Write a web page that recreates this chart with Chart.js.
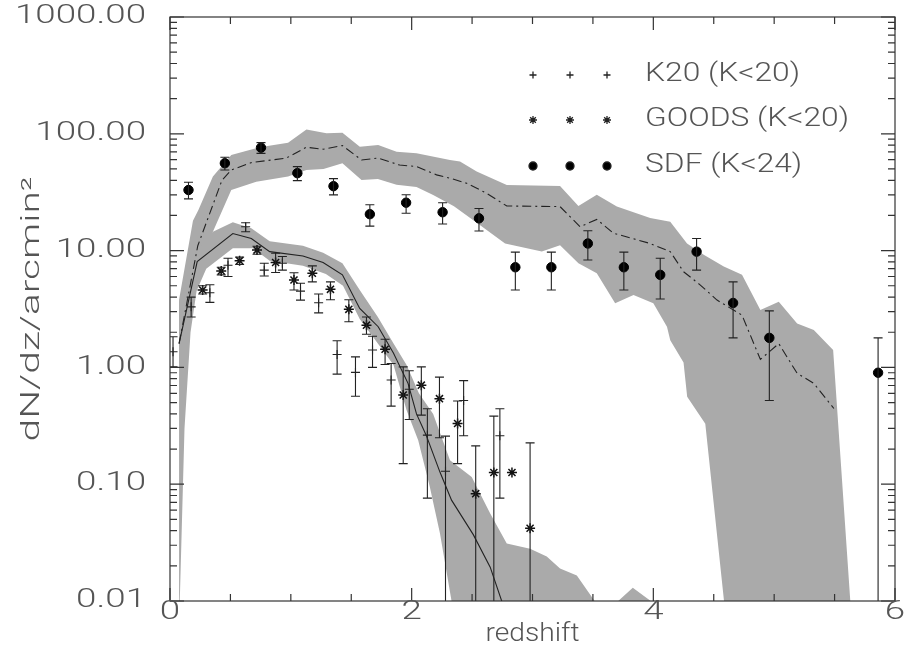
<!DOCTYPE html>
<html>
<head>
<meta charset="utf-8">
<script src="https://cdn.jsdelivr.net/npm/chart.js@4.4.1/dist/chart.umd.min.js"></script>
<style>html,body{margin:0;padding:0;background:#fff}</style>
</head>
<body>
<canvas id="myChart" width="906" height="651"></canvas>
<script>
// K20 (K<20)
const k20Z  = [0.025, 0.175, 0.33, 0.48, 0.626, 0.78, 0.93, 1.08, 1.23, 1.383, 1.535, 1.676, 1.83, 1.98, 2.13, 2.28, 2.43, 2.73]
const k20N  = [1.36, 3.3, 4.36, 7.5, 16.0, 6.8, 7.8, 4.5, 3.58, 1.29, 0.906, 1.41, 0.78, 0.65, 0.263, 0.129, 0.52, 0.26]
const k20Hi = [1.83, 4.0, 5.1, 8.6, 17.3, 7.8, 8.9, 5.25, 4.25, 1.69, 1.23, 1.85, 1.08, 0.935, 0.442, 0.258, 0.77, 0.442]
const k20Lo = [1.01, 2.7, 3.6, 6.0, 14.5, 6.06, 6.8, 3.77, 2.93, 0.876, 0.567, 1.0, 0.466, 0.358, 0.076, 0.001, 0.26, 0.076]

// GOODS (K<20)
const goodsZ  = [0.27, 0.424, 0.576, 0.72, 0.874, 1.026, 1.178, 1.328, 1.48, 1.626, 1.78, 1.93, 2.08, 2.23, 2.38, 2.53, 2.68, 2.83, 2.98]
const goodsN  = [4.6, 6.7, 8.2, 10.1, 7.9, 5.6, 6.4, 4.66, 3.14, 2.3, 1.43, 0.58, 0.705, 0.54, 0.331, 0.083, 0.126, 0.126, 0.042]
const goodsHi = [5.0, 7.2, 8.8, 10.9, 9.5, 6.47, 7.4, 5.4, 3.8, 2.7, 1.74, 1.01, 1.01, 0.826, 0.515, 0.213, 0.383, null, 0.226]
const goodsLo = [4.25, 6.2, 7.6, 9.3, 6.5, 4.6, 5.4, 3.8, 2.46, 1.92, 1.06, 0.15, 0.39, 0.25, 0.15, 0.001, 0.001, null, 0.001]

// SDF (K<24)
const sdfZ  = [0.153, 0.454, 0.753, 1.054, 1.353, 1.654, 1.954, 2.256, 2.557, 2.858, 3.156, 3.458, 3.756, 4.057, 4.358, 4.66, 4.96, 5.86]
const sdfN  = [33, 56, 76, 46, 35.6, 20.5, 25.7, 21.3, 18.9, 7.2, 7.2, 11.5, 7.2, 6.2, 9.8, 3.56, 1.79, 0.9]
const sdfHi = [38.5, 63, 84, 52.4, 41.3, 24.7, 30.1, 25.7, 22.9, 9.7, 9.7, 14.8, 9.7, 8.6, 12.7, 5.4, 3.05, 1.79]
const sdfLo = [27.7, 49, 68, 39.7, 30, 16.2, 20.9, 16.9, 14.7, 4.6, 4.6, 8.3, 4.6, 3.85, 6.8, 1.79, 0.52, 0.001]

// model for the bright sample (solid line + band)
const lowLineZ = [0.075, 0.225, 0.52, 0.673, 0.825, 1.1, 1.267, 1.427, 1.57, 1.723, 1.85, 1.97, 2.04, 2.12, 2.234, 2.33, 2.51, 2.65, 2.745, 2.77]
const lowLineN = [1.6, 8.05, 14, 12.7, 9.8, 9.0, 7.9, 6.2, 3.2, 2.23, 1.32, 0.73, 0.4, 0.263, 0.127, 0.073, 0.037, 0.0195, 0.01, 0.008]
const lowTopZ = [0.075, 0.2, 0.355, 0.52, 0.673, 0.825, 1.1, 1.267, 1.427, 1.57, 1.72, 1.85, 1.958, 2.06, 2.178, 2.317, 2.497, 2.65, 2.787, 2.98, 3.118, 3.228, 3.367, 3.52, 3.6, 3.7, 3.83, 3.99, 4.05]
const lowTopN = [3.6, 9.5, 14.5, 17.5, 15.5, 12, 11, 9.6, 7.8, 4.6, 2.7, 1.6, 1.05, 0.6, 0.4, 0.16, 0.115, 0.056, 0.031, 0.028, 0.024, 0.019, 0.0165, 0.0098, 0.008, 0.0098, 0.013, 0.0098, 0.006]
const lowBotZ = [0.075, 0.12, 0.17, 0.22, 0.3, 0.52, 0.686, 0.825, 1.1, 1.29, 1.432, 1.57, 1.72, 1.85, 1.958, 2.054, 2.15, 2.234, 2.33, 2.36]
const lowBotN = [0.006, 0.3, 2.0, 4.5, 7.0, 10.5, 10.5, 8.2, 7.4, 6.3, 5.0, 2.6, 1.6, 1.05, 0.43, 0.238, 0.095, 0.038, 0.01, 0.006]

// model for the deep sample (dash-dot line + band)
const upLineZ = [0.075, 0.23, 0.43, 0.507, 0.673, 0.963, 1.129, 1.267, 1.427, 1.585, 1.723, 1.9, 2.04, 2.206, 2.317, 2.455, 2.62, 2.787, 3.228, 3.394, 3.532, 3.67, 3.974, 4.14, 4.25, 4.389, 4.527, 4.734, 4.886, 5.038, 5.19, 5.328, 5.494]
const upLineN = [1.6, 11, 40, 49, 56.7, 62, 76.7, 73.8, 79.3, 59.7, 62, 54, 52.5, 44.5, 41.7, 37.7, 31, 24.1, 23.8, 16, 18.5, 14.1, 11.5, 9.8, 6.6, 5.07, 3.77, 2.8, 1.17, 1.6, 0.89, 0.73, 0.445]
const upTopZ = [0.075, 0.19, 0.235, 0.355, 0.507, 0.742, 0.977, 1.129, 1.295, 1.427, 1.571, 1.723, 1.875, 2.04, 2.317, 2.4, 2.538, 2.787, 3.228, 3.38, 3.532, 3.698, 3.974, 4.14, 4.279, 4.417, 4.583, 4.734, 4.886, 5.038, 5.19, 5.328, 5.488, 5.63, 5.66]
const upTopN = [3.8, 18, 22.3, 43, 66, 76.6, 84, 109, 101, 102, 77.6, 80.3, 70.3, 68, 59.6, 57.8, 47.5, 36.5, 35.8, 24.1, 30, 23.8, 19, 17.7, 11.5, 9.2, 7.3, 6.2, 3.1, 3.65, 2.38, 2.09, 1.41, 0.01, 0.004]
const upBotZ = [0.075, 0.2, 0.355, 0.507, 0.714, 0.977, 1.129, 1.27, 1.427, 1.585, 1.72, 1.875, 2.04, 2.178, 2.35, 2.55, 2.773, 3.077, 3.228, 3.38, 3.532, 3.684, 3.836, 4.0, 4.113, 4.14, 4.25, 4.28, 4.43, 4.585, 4.6]
const upBotN = [1.0, 6, 14.5, 33, 38.9, 43, 49, 50, 56, 40.3, 41, 36.6, 35, 29.9, 24, 17, 11.5, 9.8, 11.1, 7.8, 6.4, 3.54, 4.17, 3.54, 2.23, 1.71, 1.1, 0.56, 0.33, 0.01, 0.004]

const xMajor = [0, 2, 4, 6]
const xMinor = [0.5, 1, 1.5, 2.5, 3, 3.5, 4.5, 5, 5.5]
const yDecades = [0.01, 0.1, 1, 10, 100, 1000]
const yLabels = ['0.01', '0.10', '1.00', '10.00', '100.00', '1000.00']

const ink = '#222'
const textInk = '#555'
const bandGrey = '#aaaaaa'
const font = '300 25px Roboto'

function pts(zs, ns) {
    return zs.map((z, i) => ({x: z, y: ns[i]}))
}
function shape(topZ, topN, botZ, botN) {
    return pts(topZ, topN).concat(pts(botZ, botN).reverse())
}

function errBars(ctx, chart, zs, lo, hi, w) {
    const sx = chart.scales.x, sy = chart.scales.y
    for (let i = 0; i < zs.length; i++) {
        if (hi[i] == null) continue
        const px = sx.getPixelForValue(zs[i])
        const y1 = sy.getPixelForValue(hi[i])
        const y0 = sy.getPixelForValue(lo[i])
        ctx.beginPath()
        ctx.moveTo(px, y0); ctx.lineTo(px, y1)
        ctx.moveTo(px - w, y1); ctx.lineTo(px + w, y1)
        if (lo[i] >= 0.01) { ctx.moveTo(px - w, y0); ctx.lineTo(px + w, y0) }
        ctx.stroke()
    }
}

function stretchText(ctx, str, x, y, align, sx, rot) {
    ctx.save()
    ctx.translate(x, y)
    if (rot) ctx.rotate(rot)
    ctx.scale(sx, 1)
    ctx.textAlign = align
    ctx.fillText(str, 0, 0)
    ctx.restore()
}

const errorBarPlugin = {
    id: 'errorBars',
    afterDatasetsDraw(chart) {
        const ctx = chart.ctx, a = chart.chartArea
        ctx.save()
        ctx.beginPath()
        ctx.rect(a.left, a.top, a.right - a.left, a.bottom - a.top)
        ctx.clip()
        ctx.strokeStyle = ink
        ctx.lineWidth = 1.1
        errBars(ctx, chart, k20Z, k20Lo, k20Hi, 4.5)
        errBars(ctx, chart, goodsZ, goodsLo, goodsHi, 4.5)
        errBars(ctx, chart, sdfZ, sdfLo, sdfHi, 4.5)
        ctx.restore()
    }
}

const framePlugin = {
    id: 'frame',
    afterDraw(chart) {
        const ctx = chart.ctx, a = chart.chartArea
        const sx = chart.scales.x, sy = chart.scales.y
        ctx.save()
        ctx.strokeStyle = '#333'
        ctx.lineWidth = 1.2
        ctx.strokeRect(a.left, a.top, a.right - a.left, a.bottom - a.top)
        ctx.beginPath()
        // x ticks, bottom and top
        for (const v of xMajor.concat(xMinor)) {
            const len = xMajor.includes(v) ? 13 : 7
            const px = sx.getPixelForValue(v)
            ctx.moveTo(px, a.bottom); ctx.lineTo(px, a.bottom - len)
            ctx.moveTo(px, a.top); ctx.lineTo(px, a.top + len)
        }
        // y ticks, left and right
        for (const d of yDecades) {
            for (let m = 1; m <= 9; m++) {
                const v = d * m
                if (v > 1000) break
                const len = m === 1 ? 14 : 7
                const py = sy.getPixelForValue(v)
                ctx.moveTo(a.left, py); ctx.lineTo(a.left + len, py)
                ctx.moveTo(a.right, py); ctx.lineTo(a.right - len, py)
            }
        }
        ctx.stroke()

        // tick labels
        ctx.fillStyle = textInk
        ctx.font = font
        ctx.textBaseline = 'middle'
        const numScale = 131 / ctx.measureText('1000.00').width
        yDecades.forEach((d, i) => {
            stretchText(ctx, yLabels[i], a.left - 24, sy.getPixelForValue(d), 'right', numScale)
        })
        for (const v of xMajor) {
            stretchText(ctx, String(v), sx.getPixelForValue(v), a.bottom + 12, 'center', numScale)
        }

        // axis titles
        const xt = 'redshift'
        stretchText(ctx, xt, (a.left + a.right) / 2, a.bottom + 34, 'center', 94 / ctx.measureText(xt).width)
        const yt = 'dN/dz/arcmin²'
        stretchText(ctx, yt, 33, (a.top + a.bottom) / 2, 'center', 265 / ctx.measureText(yt).width, -Math.PI / 2)

        // legend
        const rows = [
            {text: 'K20 (K<20)', style: 'cross', r: 3.5, y: 75},
            {text: 'GOODS (K<20)', style: 'star', r: 4, y: 120},
            {text: 'SDF (K<24)', style: 'circle', r: 4, y: 166}
        ]
        const legScale = 155 / ctx.measureText('K20 (K<20)').width
        ctx.strokeStyle = ink
        ctx.fillStyle = '#000'
        ctx.lineWidth = 1.3
        for (const row of rows) {
            for (const px of [533, 570, 607]) {
                Chart.helpers.drawPoint(ctx, {pointStyle: row.style, radius: row.r, rotation: 0, borderWidth: 1.3}, px, row.y)
            }
        }
        ctx.fillStyle = textInk
        for (const row of rows) {
            stretchText(ctx, row.text, 645, row.y, 'left', legScale)
        }
        ctx.restore()
    }
}

const ctx = document.getElementById('myChart')
new Chart(ctx, {
    type: 'scatter',
    data: {
        datasets: [{
            data: shape(upTopZ, upTopN, upBotZ, upBotN),
            showLine: true,
            fill: 'shape',
            backgroundColor: bandGrey,
            borderWidth: 0,
            pointRadius: 0,
            order: 10
        }, {
            data: shape(lowTopZ, lowTopN, lowBotZ, lowBotN),
            showLine: true,
            fill: 'shape',
            backgroundColor: bandGrey,
            borderWidth: 0,
            pointRadius: 0,
            order: 9
        }, {
            data: pts(upLineZ, upLineN),
            showLine: true,
            borderColor: ink,
            borderWidth: 1.1,
            borderDash: [9, 4, 2, 4],
            pointRadius: 0,
            order: 5
        }, {
            data: pts(lowLineZ, lowLineN),
            showLine: true,
            borderColor: ink,
            borderWidth: 1.1,
            pointRadius: 0,
            order: 4
        }, {
            label: 'K20 (K<20)',
            data: pts(k20Z, k20N),
            pointStyle: 'cross',
            pointRadius: 4.5,
            pointBorderColor: ink,
            pointBorderWidth: 1.1,
            order: 3
        }, {
            label: 'GOODS (K<20)',
            data: pts(goodsZ, goodsN),
            pointStyle: 'star',
            pointRadius: 5,
            pointBorderColor: '#111',
            pointBorderWidth: 1.5,
            order: 2
        }, {
            label: 'SDF (K<24)',
            data: pts(sdfZ, sdfN),
            pointStyle: 'circle',
            pointRadius: 4.7,
            pointBackgroundColor: '#000',
            pointBorderColor: '#000',
            order: 1
        }]
    },
    options: {
        responsive: false,
        animation: false,
        devicePixelRatio: 1,
        layout: {padding: {left: 170, right: 11, top: 17, bottom: 50}},
        plugins: {legend: {display: false}, tooltip: {enabled: false}},
        scales: {
            x: {type: 'linear', min: 0, max: 6, display: false},
            y: {type: 'logarithmic', min: 0.01, max: 1000, display: false}
        }
    },
    plugins: [errorBarPlugin, framePlugin]
})
</script>
</body>
</html>
